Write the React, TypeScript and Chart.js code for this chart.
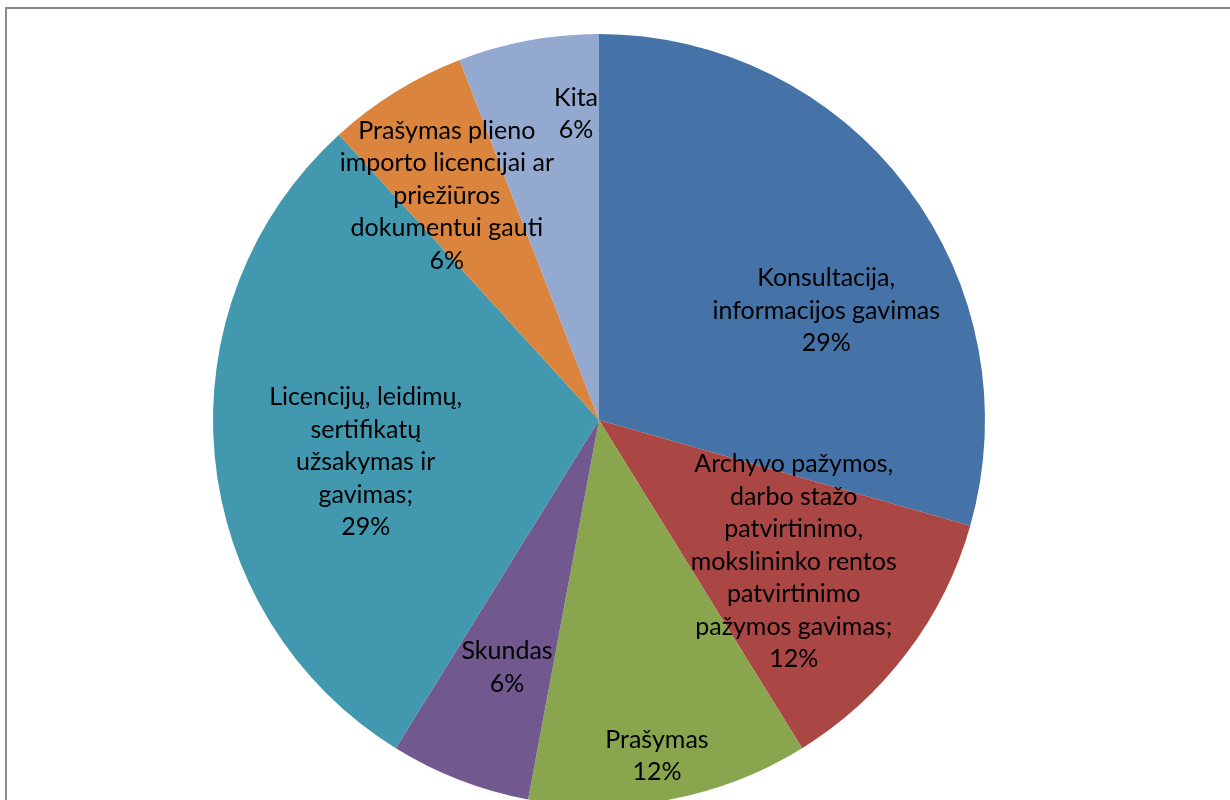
import React, { useEffect, useRef } from "react";
import { Chart, registerables } from "chart.js";

Chart.register(...registerables);

const categories: string[] = [
  "Konsultacija, informacijos gavimas",
  "Archyvo pažymos, darbo stažo patvirtinimo, mokslininko rentos patvirtinimo pažymos gavimas;",
  "Prašymas",
  "Skundas",
  "Licencijų, leidimų, sertifikatų užsakymas ir gavimas;",
  "Prašymas plieno importo licencijai ar priežiūros dokumentui gauti",
  "Kita",
];

const values: number[] = [5, 2, 2, 1, 5, 1, 1];

const labelLines: string[][] = [
  ["Konsultacija,", "informacijos gavimas"],
  ["Archyvo pažymos,", "darbo stažo", "patvirtinimo,", "mokslininko rentos", "patvirtinimo", "pažymos gavimas;"],
  ["Prašymas"],
  ["Skundas"],
  ["Licencijų, leidimų,", "sertifikatų", "užsakymas ir", "gavimas;"],
  ["Prašymas plieno", "importo licencijai ar", "priežiūros", "dokumentui gauti"],
  ["Kita"],
];

const colors: string[] = ["#4572A7", "#AA4643", "#89A54E", "#71588F", "#4198AF", "#DB843D", "#93A9CF"];

// label placement: radial fraction and angular shift (degrees) relative to slice mid-angle
const labelRadius: number[] = [0.653, 0.624, 0.883, 0.684, 0.614, 0.702, 0.795];
const labelShift: number[] = [11.4, -1.0, 0.8, -0.8, -4.9, -2.4, 6.3];

const FONT = "25px Lato, 'Open Sans', sans-serif";
const LINE_H = 32.5;

const labelPlugin = {
  id: "sliceLabels",
  beforeDraw(chart: any) {
    const ctx = chart.ctx;
    ctx.save();
    ctx.fillStyle = "#ffffff";
    ctx.fillRect(0, 0, chart.width, chart.height);
    ctx.fillStyle = "#8a8a8a";
    ctx.fillRect(5, 7, 2, chart.height);
    ctx.fillRect(5, 7, chart.width, 2);
    ctx.restore();
  },
  afterDatasetsDraw(chart: any) {
    const ctx = chart.ctx;
    const meta = chart.getDatasetMeta(0);
    const total = values.reduce((a, b) => a + b, 0);
    ctx.save();
    ctx.font = FONT;
    ctx.fillStyle = "#000000";
    ctx.textAlign = "center";
    ctx.textBaseline = "middle";
    meta.data.forEach((arc: any, i: number) => {
      const p = arc.getProps(["x", "y", "startAngle", "endAngle", "outerRadius"], true);
      const mid = (p.startAngle + p.endAngle) / 2 + (labelShift[i] * Math.PI) / 180;
      const r = p.outerRadius * labelRadius[i];
      const cx = p.x + Math.cos(mid) * r;
      const cy = p.y + Math.sin(mid) * r;
      const lines = [...labelLines[i], Math.round((values[i] / total) * 100) + "%"];
      const n = lines.length;
      lines.forEach((t, k) => {
        ctx.fillText(t, cx, cy + (k - (n - 1) / 2) * LINE_H);
      });
    });
    ctx.restore();
  },
};

export default function App() {
  const ref = useRef<HTMLCanvasElement | null>(null);
  useEffect(() => {
    if (!ref.current) return;
    const chart = new Chart(ref.current, {
      type: "pie",
      data: {
        labels: categories,
        datasets: [
          {
            data: values,
            backgroundColor: colors,
            borderWidth: 0,
          },
        ],
      },
      options: {
        responsive: false,
        animation: false,
        layout: { padding: { left: 213, right: 245, top: 34, bottom: 34 } },
        plugins: {
          legend: { display: false },
          tooltip: { enabled: false },
        },
      },
      plugins: [labelPlugin],
    });
    return () => chart.destroy();
  }, []);
  return (
    <div style={{ position: "absolute", left: 0, top: 0, width: 1230, height: 800, overflow: "hidden", background: "#fff" }}>
      <canvas ref={ref} width={1230} height={840} style={{ display: "block" }} />
    </div>
  );
}
